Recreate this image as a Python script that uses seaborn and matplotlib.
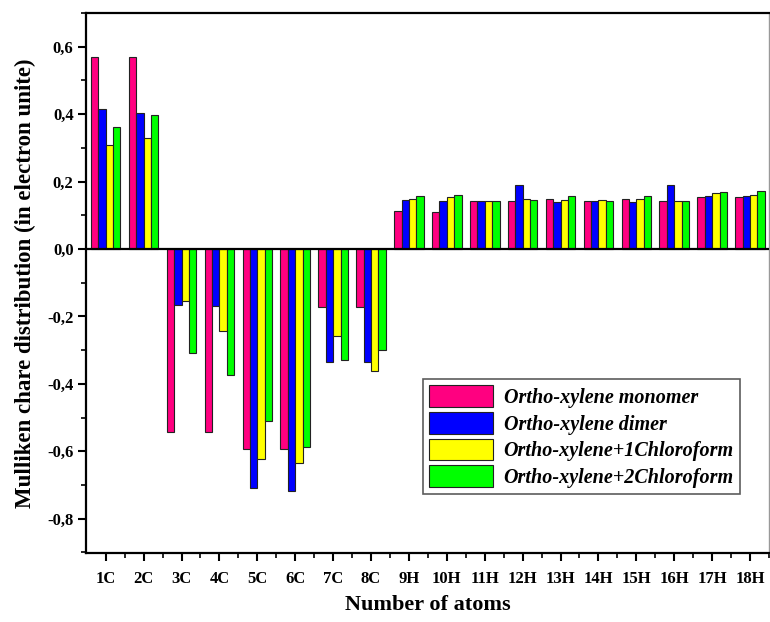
import numpy as np
import pandas as pd
import matplotlib
matplotlib.use("Agg")
import matplotlib.pyplot as plt
from matplotlib.ticker import MultipleLocator, FuncFormatter
import seaborn as sns

# Mulliken charges
ATOMS = ["1C", "2C", "3C", "4C", "5C", "6C", "7C", "8C", "9H", "10H",
         "11H", "12H", "13H", "14H", "15H", "16H", "17H", "18H"]
MONOMER = [0.569, 0.569, -0.542, -0.542, -0.592, -0.592, -0.172, -0.172, 0.112,
           0.110, 0.142, 0.141, 0.149, 0.141, 0.149, 0.141, 0.153, 0.153]
DIMER = [0.414, 0.403, -0.166, -0.170, -0.708, -0.717, -0.336, -0.336, 0.146,
         0.142, 0.142, 0.189, 0.138, 0.141, 0.138, 0.189, 0.157, 0.157]
CHL1 = [0.309, 0.328, -0.153, -0.243, -0.623, -0.634, -0.257, -0.363, 0.149,
        0.153, 0.142, 0.148, 0.146, 0.145, 0.149, 0.141, 0.166, 0.161]
CHL2 = [0.363, 0.397, -0.309, -0.375, -0.509, -0.587, -0.328, -0.301, 0.157,
        0.161, 0.142, 0.145, 0.157, 0.141, 0.157, 0.141, 0.169, 0.173]
SERIES = ["Ortho-xylene monomer", "Ortho-xylene dimer",
          "Ortho-xylene+1Chloroform", "Ortho-xylene+2Chloroform"]
COLORS = ["#FF0080", "#0000FF", "#FFFF00", "#00FF00"]

df = pd.DataFrame({
    "atom": ATOMS * 4,
    "charge": MONOMER + DIMER + CHL1 + CHL2,
    "series": np.repeat(SERIES, len(ATOMS)),
})

sns.set_style("ticks")
plt.rcParams["font.family"] = ["Liberation Serif", "DejaVu Serif"]
plt.rcParams["text.color"] = "black"
plt.rcParams["axes.labelcolor"] = "black"
plt.rcParams["xtick.color"] = "black"
plt.rcParams["ytick.color"] = "black"

fig = plt.figure(figsize=(7.7, 6.22), dpi=100)
ax = fig.add_axes([86 / 770, 1 - 553 / 622, 683 / 770, (553 - 12.7) / 622])

sns.barplot(data=df, x="atom", y="charge", hue="series", order=ATOMS,
            hue_order=SERIES, palette=COLORS, saturation=1, width=0.78,
            edgecolor="#222222", linewidth=0.8, ax=ax)

ax.axhline(0, color="black", lw=1.6, zorder=5)
ax.set_xlim(-0.52, 17.31)
ax.set_ylim(-0.902, 0.701)

ax.yaxis.set_major_locator(MultipleLocator(0.2))
ax.yaxis.set_minor_locator(MultipleLocator(0.1))
ax.yaxis.set_major_formatter(FuncFormatter(lambda v, p: f"{v:.1f}".replace(".", ",")))
ax.set_xticks(np.arange(len(ATOMS)))
ax.set_xticks(np.arange(len(ATOMS)) + 0.5, minor=True)

for s in ["left", "bottom", "top"]:
    ax.spines[s].set_linewidth(1.6)
    ax.spines[s].set_color("black")
ax.spines["right"].set_color("#999999")
ax.spines["right"].set_linewidth(1.0)

ax.tick_params(axis="both", which="major", direction="out", length=6, width=1.5,
               labelsize=12, pad=7)
ax.tick_params(axis="both", which="minor", direction="out", length=3.5, width=1.2)
ax.tick_params(axis="y", pad=3)
for lab in ax.get_xticklabels() + ax.get_yticklabels():
    lab.set_fontweight("bold")

ax.set_xlabel("Number of atoms", fontsize=16, fontweight="bold", labelpad=6)
ax.set_ylabel("Mulliken chare distribution (in electron unite)", fontsize=16.5,
              fontweight="bold", labelpad=8)

leg = ax.legend(loc="upper left", bbox_to_anchor=((423 - 86) / 683, (553 - 379) / (553 - 12.7)),
                frameon=True, fancybox=False, edgecolor="#333333",
                prop={"family": "Liberation Serif", "weight": "bold", "style": "italic", "size": 14.5},
                handlelength=3.2, handleheight=1.3, handletextpad=0.5,
                borderpad=0.3, labelspacing=0.2, borderaxespad=0)
leg.get_frame().set_linewidth(1.2)

fig.savefig("out.png", dpi=100)
